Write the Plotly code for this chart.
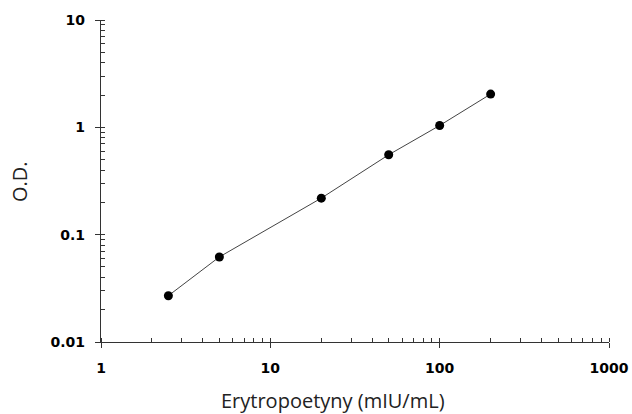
import plotly.graph_objects as go

concentration = [2.5, 5, 20, 50, 100, 200]
od_values = [0.027, 0.062, 0.219, 0.555, 1.04, 2.04]

x_tick_vals = [1, 10, 100, 1000]
x_tick_text = ["1", "10", "100", "1000"]
y_tick_vals = [0.01, 0.1, 1, 10]
y_tick_text = ["0.01", "0.1", "1", "10"]

x_title = "Erytropoetyny (mIU/mL)"
y_title = "O.D."

fig = go.Figure()
fig.add_trace(go.Scatter(
    x=concentration, y=od_values, mode="lines+markers",
    line=dict(color="#444444", width=1),
    marker=dict(color="black", size=9),
    showlegend=False, cliponaxis=False,
))

axis_common = dict(
    type="log", showgrid=False, zeroline=False, showline=True,
    linecolor="#333333", linewidth=1.2, automargin=False,
    ticks="outside", ticklen=5, tickwidth=1, tickcolor="#333333",
    tickfont=dict(family="DejaVu Sans", size=14, color="black", weight="bold"),
    minor=dict(ticks="inside", ticklen=4, tickwidth=1, tickcolor="#333333",
               dtick="D1", showgrid=False),
    tickmode="array",
)

fig.update_xaxes(**axis_common, range=[0, 3], ticklabelstandoff=8,
                 tickvals=x_tick_vals, ticktext=x_tick_text)
fig.update_yaxes(**axis_common, range=[-2, 1], ticklabelstandoff=7,
                 tickvals=y_tick_vals, ticktext=y_tick_text)

title_font = dict(family="Open Sans", size=20, color="#222222")
fig.add_annotation(text=x_title, xref="paper", yref="paper",
                   x=0.4567, y=-0.1815, xanchor="center", yanchor="middle",
                   showarrow=False, font=title_font)
fig.add_annotation(text=y_title, xref="paper", yref="paper",
                   x=-0.1604, y=0.4984, xanchor="center", yanchor="middle",
                   textangle=-90, showarrow=False, font=title_font)

fig.update_layout(
    width=632, height=414,
    margin=dict(l=101, r=23, t=20, b=72),
    plot_bgcolor="white", paper_bgcolor="white",
)

fig.write_html(
    "out.html",
    config={"displayModeBar": False},
    post_script="document.body.style.margin='0';document.body.style.overflow='hidden';",
)
